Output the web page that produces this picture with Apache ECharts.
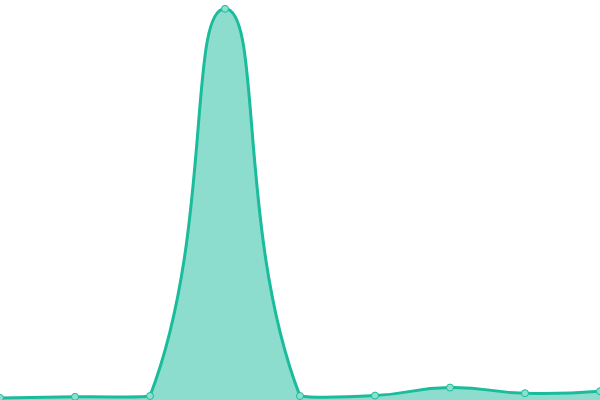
<!DOCTYPE html>
<html>
<head>
<meta charset="utf-8">
<script src="https://cdn.jsdelivr.net/npm/echarts@6/dist/echarts.min.js"></script>
<style>
  html, body { margin: 0; padding: 0; background: #fff; }
  #main { width: 600px; height: 400px; }
</style>
</head>
<body>
<div id="main"></div>
<script>
// categories and values
var categories = ['1', '2', '3', '4', '5', '6', '7', '8', '9'];
var values = [5, 8, 10, 978, 10, 11, 31, 17, 22];

var lineColor = '#1abc9c';

// old style (v4) bezier smoothing: control points along prev->next,
// split by segment length, clamped to the box of the points
function curvePath(pts, smooth) {
    var minX = Infinity, minY = Infinity, maxX = -Infinity, maxY = -Infinity;
    pts.forEach(function (p) {
        minX = Math.min(minX, p[0]); maxX = Math.max(maxX, p[0]);
        minY = Math.min(minY, p[1]); maxY = Math.max(maxY, p[1]);
    });
    function clamp(p) {
        return [Math.min(Math.max(p[0], minX), maxX), Math.min(Math.max(p[1], minY), maxY)];
    }
    var cps = [pts[0]];
    for (var i = 1; i < pts.length - 1; i++) {
        var prev = pts[i - 1], p = pts[i], next = pts[i + 1];
        var vx = (next[0] - prev[0]) * smooth, vy = (next[1] - prev[1]) * smooth;
        var d0 = Math.hypot(p[0] - prev[0], p[1] - prev[1]);
        var d1 = Math.hypot(p[0] - next[0], p[1] - next[1]);
        var sum = d0 + d1;
        if (sum) { d0 /= sum; d1 /= sum; }
        cps.push(clamp([p[0] - vx * d0, p[1] - vy * d0]));
        cps.push(clamp([p[0] + vx * d1, p[1] + vy * d1]));
    }
    cps.push(pts[pts.length - 1]);
    var d = 'M' + pts[0][0] + ' ' + pts[0][1];
    for (var j = 0; j < pts.length - 1; j++) {
        var c0 = cps[2 * j], c1 = cps[2 * j + 1], e = pts[j + 1];
        d += ' C' + c0[0] + ' ' + c0[1] + ' ' + c1[0] + ' ' + c1[1] + ' ' + e[0] + ' ' + e[1];
    }
    return d;
}

var chart = echarts.init(document.getElementById('main'));
chart.setOption({
    animation: false,
    grid: { left: 0, right: 0, top: 0, bottom: 0 },
    xAxis: {
        type: 'category',
        data: categories,
        boundaryGap: false,
        show: false
    },
    yAxis: {
        type: 'value',
        min: 0,
        max: 1000,
        show: false
    },
    series: [{
        // curve + area
        type: 'custom',
        data: values.map(function (v, i) { return [i, v]; }),
        clip: false,
        renderItem: function (params, api) {
            if (params.dataIndex !== 0) return;
            var pts = values.map(function (v, i) { return api.coord([i, v]); });
            var base = api.coord([0, 0])[1];
            var d = curvePath(pts, 0.5);
            var last = pts[pts.length - 1];
            return {
                type: 'group',
                children: [{
                    type: 'path',
                    shape: { pathData: d + ' L' + last[0] + ' ' + base + ' L' + pts[0][0] + ' ' + base + ' Z' },
                    style: { fill: 'rgba(26,188,156,0.5)', stroke: 'none' }
                }, {
                    type: 'path',
                    shape: { pathData: d },
                    style: { fill: 'none', stroke: lineColor, lineWidth: 3 }
                }]
            };
        }
    }, {
        // symbols only
        type: 'line',
        data: values,
        z: 5,
        symbol: 'circle',
        symbolSize: 7,
        lineStyle: { opacity: 0 },
        itemStyle: { color: '#8de0cd', borderColor: lineColor, borderWidth: 1 }
    }]
});
</script>
</body>
</html>
